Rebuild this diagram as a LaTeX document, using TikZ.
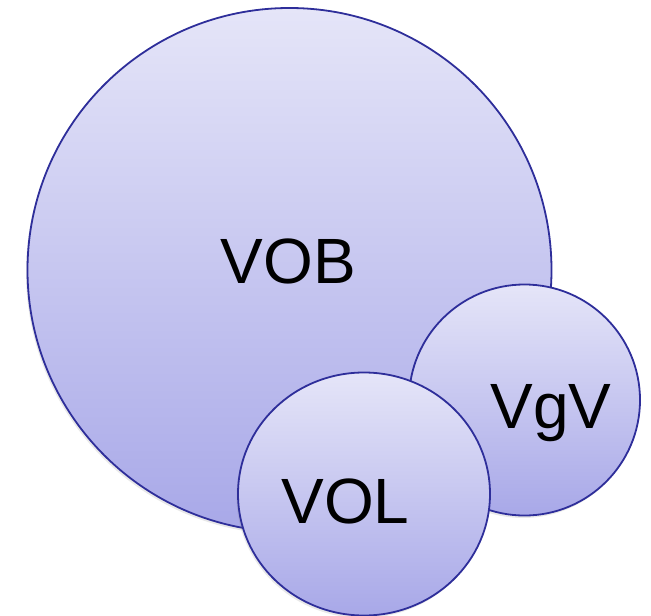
\documentclass[tikz,border=0pt]{standalone}
\usepackage{fontspec}
\setmainfont{Liberation Sans}
\usetikzlibrary{shadows,shapes.geometric}
\definecolor{ringblue}{HTML}{2E2E9A}
\definecolor{topfill}{HTML}{E5E5F8}
\definecolor{botfill}{HTML}{A8A8E8}
\tikzset{
  bubble/.style={circle, draw=ringblue, line width=1.8pt, inner sep=0pt,
    top color=topfill, bottom color=botfill,
    drop shadow={opacity=0.18, shadow xshift=-1.5pt, shadow yshift=-2.5pt}},
  oval/.style={ellipse, draw=ringblue, line width=1.8pt, inner sep=0pt,
    top color=topfill, bottom color=botfill,
    drop shadow={opacity=0.18, shadow xshift=-1.5pt, shadow yshift=-2.5pt}},
  lbl/.style={anchor=base, inner sep=0pt, font=\fontsize{64}{70}\selectfont, text=black}
}
\begin{document}
\begin{tikzpicture}[x=1pt,y=-1pt]
\useasboundingbox (0,0) rectangle (651,616);
\node[bubble, minimum size=524pt] (vob) at (289.5,270) {};
\node[lbl] (vobt) at (288.5,283) {VOB};
\node[bubble, minimum size=231pt] (vgv) at (524.5,400) {};
\node[lbl] (vgvt) at (551,428) {VgV};
\node[oval, minimum width=252pt, minimum height=243pt] (vol) at (364,494) {};
\node[lbl] (volt) at (345.5,523) {VOL};
\end{tikzpicture}
\end{document}
